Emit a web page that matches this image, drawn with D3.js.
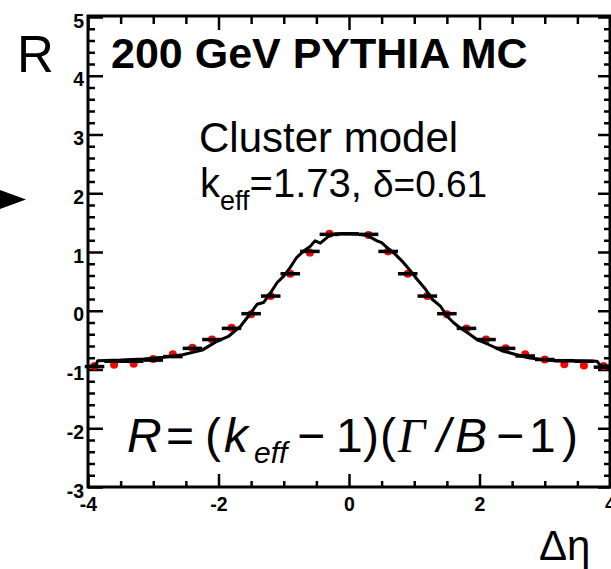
<!DOCTYPE html>
<html>
<head>
<meta charset="utf-8">
<script src="https://cdn.jsdelivr.net/npm/d3@7"></script>
<style>
  body { margin: 0; background: #fff; }
  svg { display: block; }
  .tick text { font-family: "Liberation Sans Narrow", "Arial Narrow", "Liberation Sans", sans-serif; font-weight: bold; font-size: 19.5px; fill: #000; }
  .tick line { stroke: #000; stroke-width: 2.5; }
  .domain { display: none; }
  .lbl { font-family: "Liberation Sans", Arial, sans-serif; fill: #000; }
</style>
</head>
<body>
<svg id="chart" width="611" height="569"></svg>
<script>
// bin centres in delta eta
var binCenters = [-3.9, -3.6, -3.3, -3.0, -2.7, -2.4, -2.1, -1.8, -1.5, -1.2, -0.9, -0.6, -0.3, 0.0,
                  0.3, 0.6, 0.9, 1.2, 1.5, 1.8, 2.1, 2.4, 2.7, 3.0, 3.3, 3.6, 3.9];
// red PYTHIA points (null = hidden under the peak)
var pythiaR = [-0.94, -0.92, -0.90, -0.82, -0.74, -0.63, -0.49, -0.29, -0.06, 0.25, 0.63, 0.99, 1.31, null,
               1.29, 1.01, 0.63, 0.25, -0.06, -0.30, -0.49, -0.64, -0.74, -0.83, -0.91, -0.93, -0.94];
// black points drawn with horizontal error bars
var clusterR = [-0.95, -0.86, -0.86, -0.84, -0.78, -0.64, -0.49, -0.30, -0.05, 0.25, 0.63, 1.01, 1.30, 1.31,
                1.30, 1.01, 0.63, 0.25, -0.05, -0.30, -0.49, -0.64, -0.77, -0.83, -0.85, -0.86, -0.96];
var binHalfWidth = 0.15;

// cluster model curve
var modelEta = [-4.00, -3.88, -3.85, -3.50, -3.15, -2.85, -2.55, -2.25, -2.04, -1.84, -1.66, -1.54, -1.41,
                -1.31, -1.20, -1.10, -1.00, -0.90, -0.80, -0.69, -0.59, -0.52, -0.44, -0.31, -0.21, 0.00,
                0.15, 0.28, 0.43, 0.50, 0.61, 0.71, 0.81, 0.94, 1.04, 1.17, 1.27, 1.40, 1.50, 1.60, 1.70,
                1.85, 1.96, 2.13, 2.34, 2.54, 2.75, 2.95, 3.15, 3.46, 3.80, 3.85, 4.00];
var modelR = [-0.95, -0.93, -0.85, -0.84, -0.82, -0.79, -0.75, -0.67, -0.53, -0.43, -0.26, -0.09, 0.11,
              0.14, 0.31, 0.48, 0.59, 0.74, 0.91, 1.02, 1.10, 1.19, 1.15, 1.27, 1.31, 1.31,
              1.30, 1.28, 1.19, 1.16, 1.05, 0.96, 0.85, 0.68, 0.54, 0.37, 0.20, 0.08, -0.09, -0.20, -0.29,
              -0.40, -0.49, -0.57, -0.68, -0.74, -0.80, -0.83, -0.85, -0.85, -0.86, -0.93, -0.94];

var xMajor = [-4, -2, 0, 2, 4];
var xMinor = [-3.5, -3, -2.5, -1.5, -1, -0.5, 0.5, 1, 1.5, 2.5, 3, 3.5];
var yMajor = [-3, -2, -1, 0, 1, 2, 3, 4, 5];

var frameLeft = 88, frameRight = 610, frameTop = 17, frameBottom = 487;

var svg = d3.select("#chart");

var x = d3.scaleLinear().domain([-4, 4]).range([frameLeft, frameRight]);
var y = d3.scaleLinear().domain([-3, 5]).range([frameBottom, frameTop]);

var yMinor = [];
yMajor.forEach(function(v) {
    [0.2, 0.4, 0.6, 0.8].forEach(function(f) { if (v + f < 5) yMinor.push(v + f); });
});

function fmt(d) { return d < 0 ? "-" + Math.abs(d) : d; }

// frame
svg.append("rect")
    .attr("x", frameLeft).attr("y", frameTop - 1)
    .attr("width", frameRight - frameLeft).attr("height", frameBottom - frameTop + 1)
    .attr("fill", "none").attr("stroke", "#000").attr("stroke-width", 3);

// ticks, all pointing inside like ROOT
var gx = svg.append("g").attr("transform", "translate(0," + frameBottom + ")")
    .call(d3.axisBottom(x).tickValues(xMajor).tickSizeInner(-13).tickSizeOuter(0).tickFormat(fmt));
gx.selectAll("text").attr("y", 24).attr("dy", null);
svg.append("g").attr("transform", "translate(0," + frameBottom + ")")
    .call(d3.axisBottom(x).tickValues(xMinor).tickSizeInner(-6).tickSizeOuter(0).tickFormat(""));
svg.append("g").attr("transform", "translate(0," + frameTop + ")")
    .call(d3.axisTop(x).tickValues(xMajor).tickSizeInner(-13).tickSizeOuter(0).tickFormat(""));
svg.append("g").attr("transform", "translate(0," + frameTop + ")")
    .call(d3.axisTop(x).tickValues(xMinor).tickSizeInner(-7).tickSizeOuter(0).tickFormat(""));

var gy = svg.append("g").attr("transform", "translate(" + frameLeft + ",0)")
    .call(d3.axisLeft(y).tickValues(yMajor).tickSizeInner(-15).tickSizeOuter(0).tickPadding(4).tickFormat(fmt));
gy.selectAll("text").attr("dy", "0.52em");
svg.append("g").attr("transform", "translate(" + frameLeft + ",0)")
    .call(d3.axisLeft(y).tickValues(yMinor).tickSizeInner(-7).tickSizeOuter(0).tickFormat(""));
svg.append("g").attr("transform", "translate(" + frameRight + ",0)")
    .call(d3.axisRight(y).tickValues(yMajor).tickSizeInner(-12).tickSizeOuter(0).tickFormat(""));
svg.append("g").attr("transform", "translate(" + frameRight + ",0)")
    .call(d3.axisRight(y).tickValues(yMinor).tickSizeInner(-6).tickSizeOuter(0).tickFormat(""));

// red PYTHIA points
var redPts = binCenters.map(function(d, i) { return [d, pythiaR[i]]; })
    .filter(function(d) { return d[1] !== null; });
svg.append("g").selectAll("circle")
    .data(redPts)
    .enter().append("circle")
    .attr("cx", function(d) { return x(d[0]); })
    .attr("cy", function(d) { return y(d[1]); })
    .attr("r", 4)
    .attr("fill", "#ff0000");

// black points = horizontal error bars
svg.append("g").selectAll("line")
    .data(binCenters)
    .enter().append("line")
    .attr("x1", function(d) { return x(d - binHalfWidth); })
    .attr("x2", function(d) { return x(d + binHalfWidth); })
    .attr("y1", function(d, i) { return y(clusterR[i]); })
    .attr("y2", function(d, i) { return y(clusterR[i]); })
    .attr("stroke", "#000").attr("stroke-width", 3.5);

// model curve
var line = d3.line()
    .x(function(d, i) { return x(modelEta[i]); })
    .y(function(d) { return y(d); });
svg.append("path")
    .datum(modelR)
    .attr("d", line)
    .attr("fill", "none").attr("stroke", "#000").attr("stroke-width", 3)
    .attr("stroke-linejoin", "round");

// texts
svg.append("text").attr("class", "lbl").attr("x", 17).attr("y", 72)
    .style("font-size", "51px").text("R");
svg.append("text").attr("class", "lbl").attr("x", 539).attr("y", 560)
    .style("font-size", "42px").text("Δη");
svg.append("text").attr("class", "lbl").attr("x", 111).attr("y", 68)
    .style("font-size", "43px").style("font-weight", "bold").text("200 GeV PYTHIA MC");
svg.append("text").attr("class", "lbl").attr("x", 199).attr("y", 152)
    .style("font-size", "42px").text("Cluster model");

var t2 = svg.append("text").attr("class", "lbl").attr("x", 200).attr("y", 197).style("font-size", "40px");
t2.append("tspan").text("k");
t2.append("tspan").attr("dy", 13).style("font-size", "27px").text("eff");
t2.append("tspan").attr("dy", -13).text("=1.73, ");
t2.append("tspan").style("font-size", "37px").text("δ=0.61");

// arrow head on the left edge
svg.append("path")
    .attr("d", "M0,190 L26,199.5 L0,209 Z")
    .attr("fill", "#000");

// formula R=(k_eff-1)(Gamma/B-1)
var formula = [
    { s: "R", x: 127, it: true },
    { s: "=", x: 166 },
    { s: "(", x: 205 },
    { s: "k", x: 224, it: true },
    { s: "eff", x: 254, it: true, sub: true },
    { s: "\u2212", x: 297 },
    { s: "1", x: 336 },
    { s: ")", x: 363 },
    { s: "(", x: 380 },
    { s: "\u0393", x: 398, it: true, serif: true },
    { s: "/", x: 437, it: true },
    { s: "B", x: 455, it: true },
    { s: "\u2212", x: 496 },
    { s: "1", x: 529 },
    { s: ")", x: 562 }
];
svg.append("g").selectAll("text")
    .data(formula)
    .enter().append("text")
    .attr("class", "lbl")
    .attr("x", function(d) { return d.x; })
    .attr("y", function(d) { return d.sub ? 463 : 452; })
    .style("font-size", function(d) { return d.sub ? "30px" : "48px"; })
    .style("font-style", function(d) { return d.it ? "italic" : "normal"; })
    .style("font-family", function(d) { return d.serif ? "'Liberation Serif', serif" : null; })
    .text(function(d) { return d.s; });
</script>
</body>
</html>
